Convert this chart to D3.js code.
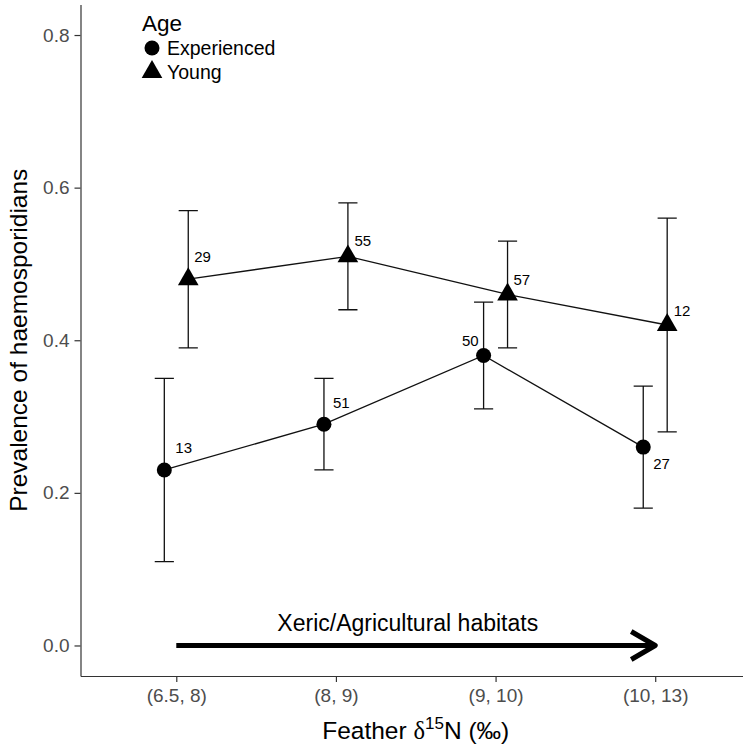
<!DOCTYPE html>
<html>
<head>
<meta charset="utf-8">
<script src="https://cdn.jsdelivr.net/npm/d3@7"></script>
<style>
    body { margin: 0; background: #fff; }
    svg { display: block; font-family: "Liberation Sans", Arial, sans-serif; }
</style>
</head>
<body>
<div id="chart"></div>
<script>
// feather d15N bins (x categories)
const categories = ['(6.5, 8)', '(8, 9)', '(9, 10)', '(10, 13)'];
const yTicks = [0, 0.2, 0.4, 0.6, 0.8];

// prevalence with CI and sample sizes, experienced birds
const expPrev = [0.23, 0.29, 0.38, 0.26];
const expLow = [0.11, 0.23, 0.31, 0.18];
const expHigh = [0.35, 0.35, 0.45, 0.34];
const expN = [13, 51, 50, 27];

// young birds
const youngPrev = [0.48, 0.51, 0.46, 0.42];
const youngLow = [0.39, 0.44, 0.39, 0.28];
const youngHigh = [0.57, 0.58, 0.53, 0.56];
const youngN = [29, 55, 57, 12];

const width = 743, height = 744;
// panel edges (the right edge runs past the picture like the original)
const panel = { left: 80.5, right: 751, top: 4.5, bottom: 676 };

// label placement around each point: [dx, dy, anchor]
const expNudge = [[11, -17, 'start'], [9, -16.5, 'start'], [-5, -10, 'end'], [10, 21.5, 'start']];
const youngNudge = [[6, -17.5, 'start'], [6.5, -10, 'start'], [6, -9.5, 'start'], [6.5, -9, 'start']];

const series = [
    { name: 'Experienced', shape: d3.symbolCircle, size: 177, dodge: -0.075,
      prev: expPrev, low: expLow, high: expHigh, n: expN, nudge: expNudge },
    { name: 'Young', shape: d3.symbolTriangle, size: 185, dodge: 0.075,
      prev: youngPrev, low: youngLow, high: youngHigh, n: youngN, nudge: youngNudge }
];

const svg = d3.select('#chart').append('svg')
    .attr('width', width)
    .attr('height', height);

const x = d3.scalePoint()
    .domain(categories)
    .range([panel.left, panel.right])
    .padding(0.6);

const y = d3.scaleLinear()
    .domain([-0.04, 0.84])
    .range([panel.bottom, panel.top]);

const px = (cat, dodge) => x(cat) + dodge * x.step();

// axes
const yAxis = svg.append('g')
    .attr('transform', `translate(${panel.left},0)`)
    .call(d3.axisLeft(y).tickValues(yTicks).tickFormat(d3.format('.1f'))
        .tickSize(6).tickSizeOuter(0).tickPadding(5));

const xAxis = svg.append('g')
    .attr('transform', `translate(0,${panel.bottom})`)
    .call(d3.axisBottom(x).tickSize(6).tickSizeOuter(0).tickPadding(7));

[xAxis, yAxis].forEach(g => {
    g.select('.domain').attr('stroke', '#333').attr('stroke-width', 1.2);
    g.selectAll('.tick line').attr('stroke', '#333').attr('stroke-width', 1.2);
    g.selectAll('.tick text')
        .attr('fill', '#4d4d4d')
        .style('font-size', '19px')
        .style('font-family', '"Liberation Sans", Arial, sans-serif');
});

// arrow annotation along y = 0
const arrowY = y(0);
const x0 = x(categories[0]), x1 = x(categories[categories.length - 1]);
const note = svg.append('g');
note.append('line')
    .attr('x1', x0).attr('x2', x1 - 2)
    .attr('y1', arrowY).attr('y2', arrowY)
    .attr('stroke', '#000').attr('stroke-width', 5);
note.append('path')
    .attr('d', `M${x1 - 24},${arrowY - 14}L${x1},${arrowY}L${x1 - 24},${arrowY + 14}`)
    .attr('fill', 'none').attr('stroke', '#000').attr('stroke-width', 5)
    .attr('stroke-linejoin', 'round');
note.append('text')
    .attr('x', x0 + 1.45 * x.step())
    .attr('y', arrowY - 14)
    .attr('text-anchor', 'middle')
    .style('font-size', '23px')
    .text('Xeric/Agricultural habitats');

// series
const line = d3.line();
series.forEach(s => {
    const g = svg.append('g');
    const pts = categories.map((c, i) => [px(c, s.dodge), y(s.prev[i])]);

    // error bars
    const cap = 0.06 * x.step();
    categories.forEach((c, i) => {
        const cx = px(c, s.dodge);
        g.append('path')
            .attr('d', `M${cx},${y(s.high[i])}V${y(s.low[i])}` +
                `M${cx - cap},${y(s.high[i])}H${cx + cap}` +
                `M${cx - cap},${y(s.low[i])}H${cx + cap}`)
            .attr('fill', 'none').attr('stroke', '#111').attr('stroke-width', 1.3);
    });

    g.append('path')
        .attr('d', line(pts))
        .attr('fill', 'none').attr('stroke', '#111').attr('stroke-width', 1.3);

    g.selectAll('.pt').data(pts).join('path')
        .attr('transform', d => `translate(${d[0]},${d[1]})`)
        .attr('d', d3.symbol(s.shape, s.size))
        .attr('fill', '#000');

    g.selectAll('.n').data(pts).join('text')
        .attr('x', (d, i) => d[0] + s.nudge[i][0])
        .attr('y', (d, i) => d[1] + s.nudge[i][1])
        .attr('text-anchor', (d, i) => s.nudge[i][2])
        .style('font-size', '15px')
        .text((d, i) => s.n[i]);
});

// axis titles
svg.append('text')
    .attr('x', (panel.left + panel.right) / 2)
    .attr('y', 739)
    .attr('text-anchor', 'middle')
    .style('font-size', '24.5px')
    .call(t => {
        t.append('tspan').text('Feather ');
        t.append('tspan').style('font-family', '"Liberation Serif", "DejaVu Serif", serif').text('δ');
        t.append('tspan').attr('dy', -10).style('font-size', '17px').text('15');
        t.append('tspan').attr('dy', 10).text('N (‰)');
    });

svg.append('text')
    .attr('transform', `translate(27,${(panel.top + panel.bottom) / 2})rotate(-90)`)
    .attr('text-anchor', 'middle')
    .style('font-size', '24.5px')
    .text('Prevalence of haemosporidians');

// legend
const legend = svg.append('g').attr('transform', 'translate(142,0)');
legend.append('text')
    .attr('x', 0).attr('y', 31)
    .style('font-size', '22.5px')
    .text('Age');
series.forEach((s, i) => {
    const cy = 48 + i * 24;
    legend.append('path')
        .attr('transform', `translate(10,${cy})`)
        .attr('d', d3.symbol(s.shape, s.size))
        .attr('fill', '#000');
    legend.append('text')
        .attr('x', 25).attr('y', cy + 7)
        .style('font-size', '19.5px')
        .text(s.name);
});
</script>
</body>
</html>
